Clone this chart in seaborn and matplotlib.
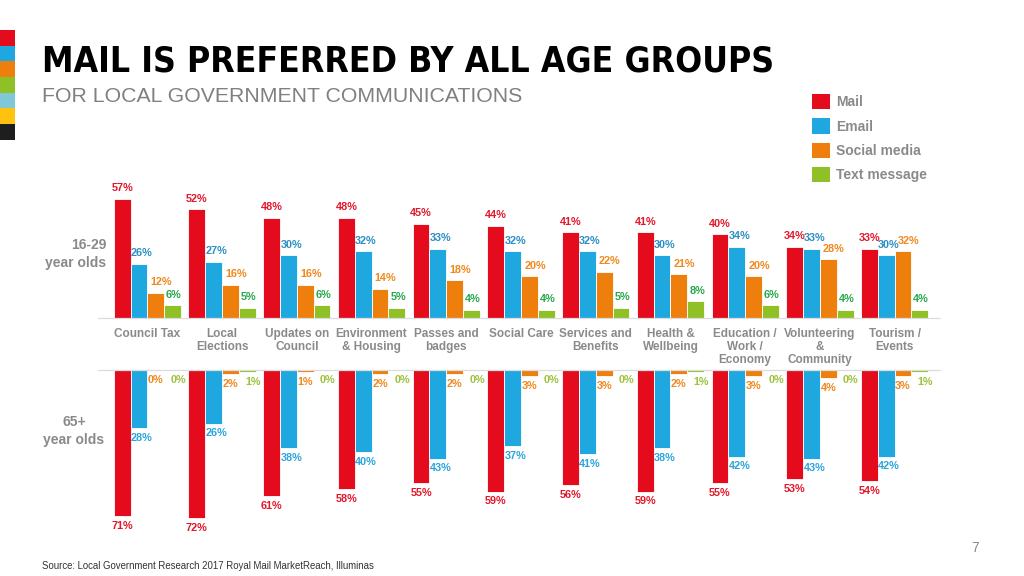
import matplotlib
matplotlib.use("Agg")
import matplotlib.pyplot as plt
from matplotlib.patches import Rectangle, Patch
import pandas as pd
import seaborn as sns

sns.set_theme(style="white")
plt.rcParams["font.family"] = ["Liberation Sans", "DejaVu Sans"]

# --- data ---
categories = ["Council Tax", "Local\nElections", "Updates on\nCouncil", "Environment\n& Housing",
              "Passes and\nbadges", "Social Care", "Services and\nBenefits", "Health &\nWellbeing",
              "Education /\nWork /\nEconomy", "Volunteering\n&\nCommunity", "Tourism /\nEvents"]
channels = ["Mail", "Email", "Social media", "Text message"]

young_mail = [57, 52, 48, 48, 45, 44, 41, 41, 40, 34, 33]
young_email = [26, 27, 30, 32, 33, 32, 32, 30, 34, 33, 30]
young_social = [12, 16, 16, 14, 18, 20, 22, 21, 20, 28, 32]
young_text = [6, 5, 6, 5, 4, 4, 5, 8, 6, 4, 4]

old_mail = [71, 72, 61, 58, 55, 59, 56, 59, 55, 53, 54]
old_email = [28, 26, 38, 40, 43, 37, 41, 38, 42, 43, 42]
old_social = [0, 2, 1, 2, 2, 3, 3, 2, 3, 4, 3]
old_text = [0, 1, 0, 0, 0, 0, 0, 1, 0, 0, 1]

bar_colors = ["#e30b1c", "#1fa8e0", "#ef7f0d", "#8fc127"]
young_label_colors = ["#e2172b", "#2b8fc4", "#f0881c", "#27a84a"]
old_label_colors = ["#e2172b", "#2aa5dc", "#f0881c", "#9dc23b"]
grey = "#8a8a8a"


def long_frame(series):
    rows = []
    for ch, vals in zip(channels, series):
        for cat, v in zip(categories, vals):
            rows.append({"category": cat, "channel": ch, "value": v})
    return pd.DataFrame(rows)


def draw_panel(ax, df, label_colors, label_dx, down=False):
    sns.barplot(data=df, x="category", y="value", hue="channel", order=categories,
                hue_order=channels, palette=bar_colors, saturation=1, width=0.9, gap=0,
                dodge=True, errorbar=None, edgecolor="white", linewidth=0.6, legend=False, ax=ax)
    # value labels, nudged sideways a little per channel like on the slide
    for cont, col, dx in zip(ax.containers, label_colors, label_dx):
        for bar in cont:
            h = bar.get_height()
            ax.annotate(f"{int(round(h))}%", (bar.get_x() + bar.get_width() / 2, h),
                        xytext=(dx, -3.5 if down else 4), textcoords="offset points",
                        ha="center", va="top" if down else "bottom", color=col,
                        fontsize=7.8, fontweight="bold", annotation_clip=False)
    ax.set_xlim(-0.5, 10.5)
    ax.set_xlabel("")
    ax.set_ylabel("")
    ax.set_yticks([])
    for s in ax.spines.values():
        s.set_visible(False)


fig = plt.figure(figsize=(10.24, 5.76), dpi=100)

ax_top = fig.add_axes([110 / 1024, 258 / 576, 822 / 1024, 125.4 / 576])
draw_panel(ax_top, long_frame([young_mail, young_email, young_social, young_text]),
           young_label_colors, [0, 2, 4, 1])
ax_top.set_ylim(0, 60)
ax_top.tick_params(axis="x", length=0, pad=7)
ax_top.set_xticks(range(len(categories)))
ax_top.set_xticklabels(categories, fontsize=8.5, fontweight="bold", color=grey, linespacing=1.15)
ax_top.axhline(0, xmin=-0.015, xmax=1.01, color="#dcdcdc", lw=0.9, clip_on=False)

ax_bot = fig.add_axes([110 / 1024, 51.5 / 576, 822 / 1024, 154.5 / 576])
draw_panel(ax_bot, long_frame([old_mail, old_email, old_social, old_text]),
           old_label_colors, [0, 2, 0, 4], down=True)
ax_bot.set_ylim(75, 0)
ax_bot.set_xticks([])
ax_bot.axhline(0, xmin=-0.015, xmax=1.01, color="#dcdcdc", lw=0.9, clip_on=False)

# row labels
fig.text(106 / 1024, 1 - 254 / 576, "16-29\nyear olds", ha="right", va="center",
         fontsize=10, fontweight="bold", color=grey, linespacing=1.3)
fig.text(74 / 1024, 1 - 431 / 576, "65+\nyear olds", ha="center", va="center",
         fontsize=10, fontweight="bold", color=grey, linespacing=1.3)

# title block
fig.text(42 / 1024, 1 - 72 / 576, "MAIL IS PREFERRED BY ALL AGE GROUPS", ha="left", va="baseline",
         fontsize=25.5, fontweight="bold", fontstretch="condensed", color="black",
         family=["DejaVu Sans"])
fig.text(42 / 1024, 1 - 102 / 576, "FOR LOCAL GOVERNMENT COMMUNICATIONS", ha="left", va="baseline",
         fontsize=15.3, color="#808080")

# decorative colour strip at the left edge
strip = ["#e30b1c", "#1fa8e0", "#ef7f0d", "#8fc127", "#7fc8d8", "#ffc20e", "#1e1e1e"]
for i, c in enumerate(strip):
    fig.patches.append(Rectangle((0, 1 - (30 + 15.7 * (i + 1)) / 576), 15 / 1024, 15.7 / 576,
                                 transform=fig.transFigure, facecolor=c, edgecolor="none"))

# legend
handles = [Patch(facecolor=c, edgecolor="none", label=l) for c, l in zip(bar_colors, channels)]
leg = fig.legend(handles=handles, loc="upper left", bbox_to_anchor=(806 / 1024, 1 - 88.5 / 576),
                 frameon=False, fontsize=10, handlelength=1.3, handleheight=1.3,
                 handletextpad=0.45, labelspacing=0.66, borderaxespad=0)
for t in leg.get_texts():
    t.set_color(grey)
    t.set_fontweight("bold")

fig.text(975 / 1024, 1 - 548 / 576, "7", ha="center", va="center", fontsize=10, color="#8a8a8a")
fig.text(42 / 1024, 1 - 566 / 576, "Source: Local Government Research 2017 Royal Mail MarketReach, Illuminas",
         ha="left", va="center", fontsize=6.9, color="#333333")

fig.savefig("out.png", dpi=100)
